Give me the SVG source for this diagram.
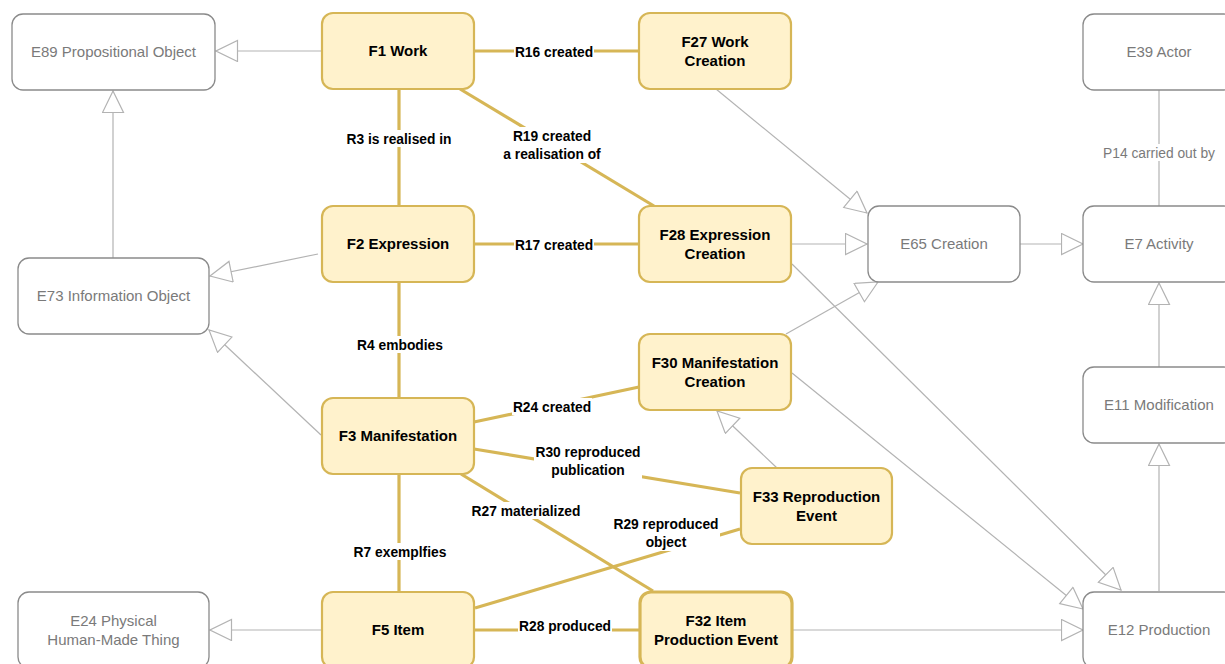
<svg xmlns="http://www.w3.org/2000/svg" width="1225" height="664" viewBox="0 0 1225 664">
<defs>
<style>
.g rect{fill:#ffffff;stroke:#8a8a8a;stroke-width:1.3}
.g text{fill:#7a7a7a;font-family:"Liberation Sans",Arial,sans-serif;font-size:15px;text-anchor:middle}
.f rect{fill:#fff2cc;stroke:#d6b656;stroke-width:2.2}
.f text{fill:#000;font-family:"Liberation Sans",Arial,sans-serif;font-size:15px;font-weight:bold;text-anchor:middle}
.gl{stroke:#b3b3b3;stroke-width:1.2;fill:none}
.gl.a{marker-end:url(#tri)}
.yl{stroke:#d6b656;stroke-width:3.2;fill:none}
.lb rect{fill:#ffffff}
.lb text{fill:#000;font-family:"Liberation Sans",Arial,sans-serif;font-size:13.8px;font-weight:bold;text-anchor:middle}
.pl rect{fill:#ffffff}
.pl text{fill:#7a7a7a;font-family:"Liberation Sans",Arial,sans-serif;font-size:13.8px;text-anchor:middle}
</style>
<marker id="tri" viewBox="0 0 24 24" refX="22.5" refY="11" markerWidth="24" markerHeight="24" markerUnits="userSpaceOnUse" orient="auto">
<path d="M1,0.5 L22.5,11 L1,21.5 Z" fill="#ffffff" stroke="#b3b3b3" stroke-width="1.2"/>
</marker>
</defs>

<g id="connectors">
<line class="gl a" x1="322" y1="51" x2="216" y2="51"/>
<line class="gl a" x1="113" y1="258" x2="113" y2="91"/>
<line class="gl a" x1="318" y1="254" x2="210" y2="276"/>
<line class="gl a" x1="321" y1="435" x2="209" y2="330"/>
<line class="gl a" x1="322" y1="630" x2="210" y2="630"/>
<line class="gl a" x1="716" y1="89" x2="867" y2="213"/>
<line class="gl a" x1="792" y1="244" x2="867" y2="244"/>
<line class="gl a" x1="786" y1="334" x2="878" y2="282"/>
<line class="gl a" x1="1020" y1="244" x2="1083" y2="244"/>
<line class="gl a" x1="792" y1="264" x2="1121" y2="590"/>
<line class="gl a" x1="792" y1="373" x2="1083" y2="609"/>
<line class="gl a" x1="793" y1="630" x2="1083" y2="630"/>
<line class="gl a" x1="1159" y1="591" x2="1159" y2="444"/>
<line class="gl a" x1="1159" y1="367" x2="1159" y2="283"/>
<line class="gl a" x1="777" y1="468" x2="717" y2="411"/>
<line class="gl" x1="1159" y1="89" x2="1159" y2="206"/>

<line class="yl" x1="474" y1="51" x2="639" y2="51"/>
<line class="yl" x1="399" y1="89" x2="399" y2="206"/>
<line class="yl" x1="460" y1="89" x2="654" y2="206"/>
<line class="yl" x1="474" y1="244" x2="639" y2="244"/>
<line class="yl" x1="399" y1="282" x2="399" y2="398"/>
<line class="yl" x1="474" y1="422" x2="639" y2="387"/>
<line class="yl" x1="474" y1="449" x2="740" y2="493"/>
<line class="yl" x1="461" y1="474" x2="653" y2="591"/>
<line class="yl" x1="399" y1="474" x2="399" y2="591"/>
<line class="yl" x1="475" y1="608" x2="740" y2="529"/>
<line class="yl" x1="474" y1="630" x2="639" y2="630"/>

<g class="lb">
<rect x="514" y="43" width="80" height="17"/><text x="554" y="57">R16 created</text>
<rect x="346" y="130" width="106" height="17"/><text x="399" y="144">R3 is realised in</text>
<rect x="501" y="127" width="102" height="36"/><text x="552" y="141">R19 created</text><text x="552" y="159">a realisation of</text>
<rect x="514" y="236" width="80" height="17"/><text x="554" y="250">R17 created</text>
<rect x="356" y="336" width="88" height="17"/><text x="400" y="350">R4 embodies</text>
<rect x="512" y="398" width="80" height="17"/><text x="552" y="412">R24 created</text>
<rect x="534" y="443" width="108" height="36"/><text x="588" y="457">R30 reproduced</text><text x="588" y="475">publication</text>
<rect x="470" y="502" width="112" height="17"/><text x="526" y="516">R27 materialized</text>
<rect x="612" y="515" width="108" height="36"/><text x="666" y="529">R29 reproduced</text><text x="666" y="547">object</text>
<rect x="353" y="543" width="94" height="17"/><text x="400" y="557">R7 exemplfies</text>
<rect x="518" y="617" width="94" height="17"/><text x="565" y="631">R28 produced</text>
</g>
<g class="pl">
<rect x="1101" y="144" width="116" height="17"/><text x="1159" y="158">P14 carried out by</text>
</g>
</g>

<g id="E89" class="g"><rect x="12" y="14" width="203" height="76" rx="11"/><text x="113.5" y="57">E89 Propositional Object</text></g>
<g id="E73" class="g"><rect x="18" y="258" width="191" height="76" rx="11"/><text x="113.5" y="301">E73 Information Object</text></g>
<g id="E24" class="g"><rect x="18" y="592" width="191" height="76" rx="11"/><text x="113.5" y="626">E24 Physical</text><text x="113.5" y="645">Human-Made Thing</text></g>
<g id="E65" class="g"><rect x="868" y="206" width="152" height="76" rx="11"/><text x="944" y="249">E65 Creation</text></g>
<g id="E39" class="g"><rect x="1083" y="14" width="152" height="76" rx="11"/><text x="1159" y="57">E39 Actor</text></g>
<g id="E7" class="g"><rect x="1083" y="206" width="152" height="76" rx="11"/><text x="1159" y="249">E7 Activity</text></g>
<g id="E11" class="g"><rect x="1083" y="367" width="152" height="76" rx="11"/><text x="1159" y="410">E11 Modification</text></g>
<g id="E12" class="g"><rect x="1083" y="592" width="152" height="76" rx="11"/><text x="1159" y="635">E12 Production</text></g>

<g id="F1" class="f"><rect x="322" y="13" width="152" height="76" rx="11"/><text x="398" y="56">F1 Work</text></g>
<g id="F27" class="f"><rect x="639" y="13" width="152" height="76" rx="11"/><text x="715" y="47">F27 Work</text><text x="715" y="66">Creation</text></g>
<g id="F2" class="f"><rect x="322" y="206" width="152" height="76" rx="11"/><text x="398" y="249">F2 Expression</text></g>
<g id="F28" class="f"><rect x="639" y="206" width="152" height="76" rx="11"/><text x="715" y="240">F28 Expression</text><text x="715" y="259">Creation</text></g>
<g id="F30" class="f"><rect x="639" y="334" width="152" height="76" rx="11"/><text x="715" y="368">F30 Manifestation</text><text x="715" y="387">Creation</text></g>
<g id="F3" class="f"><rect x="322" y="398" width="152" height="76" rx="11"/><text x="398" y="441">F3 Manifestation</text></g>
<g id="F33" class="f"><rect x="741" y="468" width="151" height="76" rx="11"/><text x="816.5" y="502">F33 Reproduction</text><text x="816.5" y="521">Event</text></g>
<g id="F5" class="f"><rect x="322" y="592" width="152" height="76" rx="11"/><text x="398" y="635">F5 Item</text></g>
<g id="F32" class="f"><rect x="640" y="592" width="152" height="76" rx="11" style="stroke-width:3.2"/><text x="716" y="626">F32 Item</text><text x="716" y="645">Production Event</text></g>
</svg>
